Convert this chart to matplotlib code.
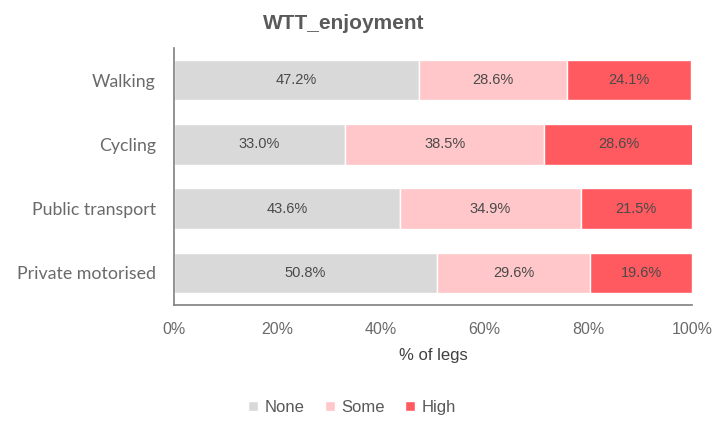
import matplotlib.pyplot as plt
import numpy as np

plt.rcParams['font.family'] = ['Liberation Sans', 'DejaVu Sans']

modes = ['Walking', 'Cycling', 'Public transport', 'Private motorised']
none_pct = [47.2, 33.0, 43.6, 50.8]
some_pct = [28.6, 38.5, 34.9, 29.6]
high_pct = [24.1, 28.6, 21.5, 19.6]
levels = ['None', 'Some', 'High']
colors = ['#d9d9d9', '#ffc7c9', '#ff5a5f']

fig = plt.figure(figsize=(7.14, 4.22), dpi=100)
ax = fig.add_axes([0.2437, 0.277, 0.7255, 0.609])

y = np.arange(len(modes))
left = np.zeros(len(modes))
for name, vals, c in zip(levels, [none_pct, some_pct, high_pct], colors):
    vals = np.array(vals)
    ax.barh(y, vals, left=left, height=0.63, color=c, label=name,
            edgecolor='white', linewidth=1)
    for yi, l, v in zip(y, left, vals):
        ax.text(l + v / 2, yi, '%.1f%%' % v, ha='center', va='center',
                fontsize=10.5, color='#4a4a4a')
    left += vals

ax.set_xlim(0, 100)
ax.set_ylim(3.5, -0.5)
ax.set_yticks(y)
ax.set_yticklabels(modes, family=['Lato', 'DejaVu Sans'], fontsize=12.8,
                   color='#6a6a6a')
ax.set_xticks(np.arange(0, 101, 20))
ax.set_xticklabels(['%d%%' % t for t in range(0, 101, 20)])
ax.tick_params(length=0)
ax.tick_params(axis='x', pad=12, labelsize=11.5, labelcolor='#6a6a6a')
ax.tick_params(axis='y', pad=13)

for s in ['top', 'right']:
    ax.spines[s].set_visible(False)
for s in ['left', 'bottom']:
    ax.spines[s].set_color('#7f7f7f')
    ax.spines[s].set_linewidth(1.2)

ax.set_xlabel('% of legs', fontsize=12, color='#404040', labelpad=8)
fig.text(0.482, 0.945, 'WTT_enjoyment', ha='center', va='center',
         fontsize=15, fontweight='bold', color='#5a5a5a')

fig.legend(loc='center', bbox_to_anchor=(0.493, 0.035), ncol=3, frameon=False,
           fontsize=12, handlelength=0.6, handleheight=0.6, handletextpad=0.4,
           columnspacing=1.2, labelcolor='#595959')

fig.savefig('out.png', dpi=100)
